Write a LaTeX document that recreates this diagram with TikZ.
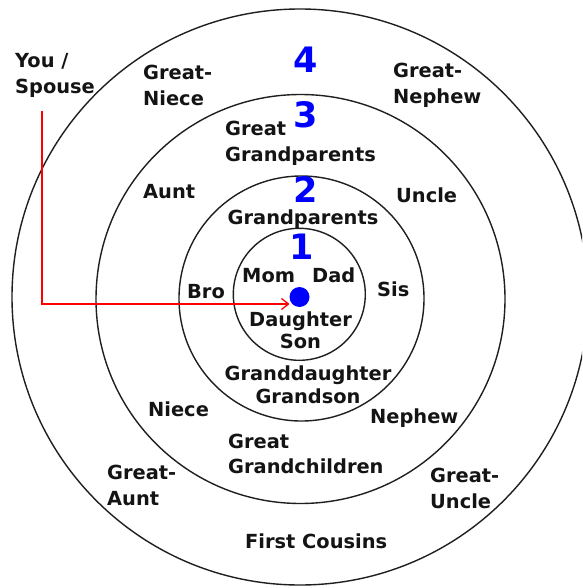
\documentclass[tikz,border=0pt]{standalone}
\usepackage{fontspec}
\setmainfont{DejaVu Sans}
\usetikzlibrary{arrows.meta}
\begin{document}
\begin{tikzpicture}[x=1pt,y=-1pt,
  ring/.style={draw=black!88, line width=1.4pt},
  lbl/.style={inner sep=0pt, align=left, font=\fontsize{19.4}{26}\selectfont\bfseries, text=black!92},
  num/.style={inner sep=0pt, font=\fontsize{35}{35}\selectfont\bfseries, text=blue},
  link/.style={draw=red, line width=1.3pt, -{Straight Barb[length=7pt,width=11pt]}}
]
\fill[white] (0,0) rectangle (582,588);
\useasboundingbox (0,0) rectangle (582,588);
\clip (0,0) rectangle (582,588);

% rings
\draw[ring] (300,297) circle[radius=288];
\draw[ring] (300.5,299) circle[radius=204.5];
\draw[ring] (301.5,298.5) circle[radius=122.5];
\draw[ring] (299.3,294.3) circle[radius=66];

% centre dot
\node[circle, fill=blue, inner sep=0pt, minimum size=20pt] (dot) at (299.5,297) {};

% ring numbers
\node[num] (n4) at (306,60) {4};
\node[num] (n3) at (306,115) {3};
\node[num] (n2) at (306,190) {2};
\node[num] (n1) at (302,247) {1};

% labels (anchor base = baseline of the last line)
\node[lbl, anchor=base west] (you) at (15,94) {You /\\Spouse};
\node[lbl, anchor=base west] (gniece) at (143,106) {Great-\\Niece};
\node[lbl, anchor=base west] (gnephew) at (393,104) {Great-\\Nephew};
\node[lbl, anchor=base west] (ggp) at (225,161) {Great\\Grandparents};
\node[lbl, anchor=base west] (aunt) at (143,198) {Aunt};
\node[lbl, anchor=base west] (uncle) at (396,202) {Uncle};
\node[lbl, anchor=base] (gp) at (303,224) {Grandparents};
\node[lbl, anchor=base west] (mom) at (242,282) {Mom};
\node[lbl, anchor=base west] (dad) at (312,282) {Dad};
\node[lbl, anchor=base west] (bro) at (187,298) {Bro};
\node[lbl, anchor=base west] (sis) at (377,296) {Sis};
\node[lbl, align=center, anchor=base, font=\fontsize{19.4}{22}\selectfont\bfseries] (kids) at (300.5,348) {Daughter\\Son};
\node[lbl, align=center, anchor=base, font=\fontsize{19.4}{23}\selectfont\bfseries] (gkids) at (308,403) {Granddaughter\\Grandson};
\node[lbl, anchor=base west] (nephew) at (370,423) {Nephew};
\node[lbl, anchor=base west] (niece) at (148,416) {Niece};
\node[lbl, anchor=base west, font=\fontsize{19.4}{25}\selectfont\bfseries] (ggc) at (228,473) {Great\\Grandchildren};
\node[lbl, anchor=base west] (gaunt) at (107,505) {Great-\\Aunt};
\node[lbl, anchor=base west] (guncle) at (430,508) {Great-\\Uncle};
\node[lbl, anchor=base west] (cousins) at (245,548) {First Cousins};

% pointer from You / Spouse to the centre
\coordinate (pstart) at (42,111);
\coordinate (pend) at (289.5,304);
\draw[link] (pstart) |- (pend);
\end{tikzpicture}
\end{document}
